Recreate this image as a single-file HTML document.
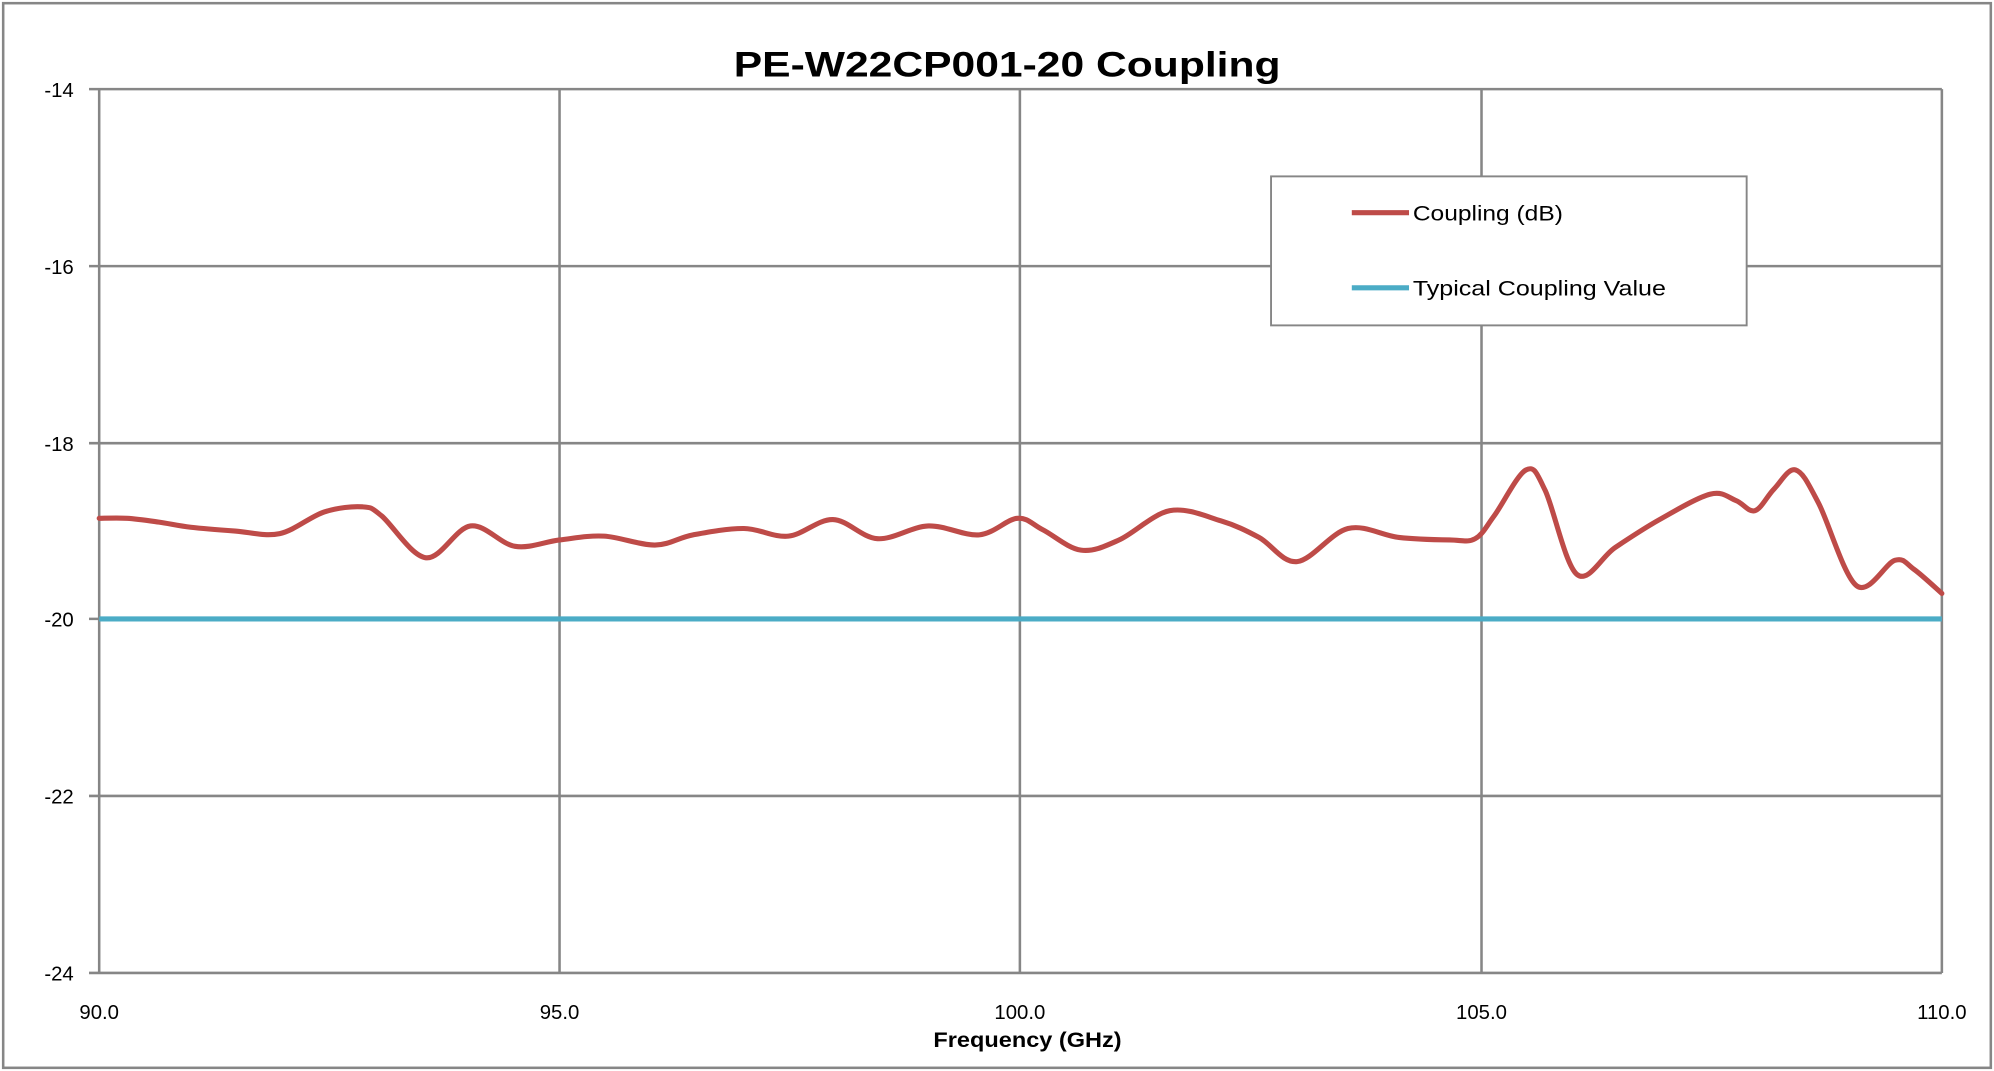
<!DOCTYPE html>
<html><head><meta charset="utf-8"><style>
html,body{margin:0;padding:0;background:#fff;}
svg{display:block;}
text{font-family:"Liberation Sans",sans-serif;}
</style></head><body>
<svg width="1994" height="1071" viewBox="0 0 1568 841" preserveAspectRatio="none" xmlns="http://www.w3.org/2000/svg">
<rect x="0" y="0" width="1568" height="841" fill="#fff"/>
<rect x="2.5" y="2.5" width="1563" height="836" fill="none" stroke="#868686" stroke-width="2"/>
<text x="792" y="60" text-anchor="middle" font-size="28" font-weight="bold" fill="#000" textLength="430" lengthAdjust="spacingAndGlyphs">PE-W22CP001-20 Coupling</text>
<g stroke="#868686" stroke-width="2" fill="none">
<line x1="70" y1="70" x2="1527" y2="70"/>
<line x1="70" y1="209" x2="1527" y2="209"/>
<line x1="70" y1="348" x2="1527" y2="348"/>
<line x1="70" y1="486" x2="1527" y2="486"/>
<line x1="70" y1="625" x2="1527" y2="625"/>
<line x1="70" y1="764" x2="1527" y2="764"/>
<line x1="78" y1="70" x2="78" y2="764"/>
<line x1="440" y1="70" x2="440" y2="764"/>
<line x1="802" y1="70" x2="802" y2="764"/>
<line x1="1165" y1="70" x2="1165" y2="764"/>
<line x1="1527" y1="70" x2="1527" y2="764"/>
</g>
<g font-size="16" fill="#000" text-anchor="end">
<text x="58" y="76">-14</text>
<text x="58" y="215">-16</text>
<text x="58" y="354">-18</text>
<text x="58" y="492">-20</text>
<text x="58" y="631">-22</text>
<text x="58" y="770">-24</text>
</g>
<g font-size="16" fill="#000" text-anchor="middle">
<text x="78" y="800">90.0</text>
<text x="440" y="800">95.0</text>
<text x="802" y="800">100.0</text>
<text x="1165" y="800">105.0</text>
<text x="1527" y="800">110.0</text>
</g>
<text x="808" y="822" text-anchor="middle" font-size="17" font-weight="bold" textLength="148" lengthAdjust="spacingAndGlyphs">Frequency (GHz)</text>
<line x1="78" y1="486" x2="1527" y2="486" stroke="#4bacc6" stroke-width="4"/>
<path id="curve" fill="none" stroke="#be4b48" stroke-width="4" stroke-linejoin="round" stroke-linecap="round" d=""/>
<rect x="999.5" y="138.5" width="374" height="117" fill="#fff" stroke="#868686" stroke-width="1.5"/>
<line x1="1063" y1="167" x2="1108" y2="167" stroke="#be4b48" stroke-width="4"/>
<line x1="1063" y1="226" x2="1108" y2="226" stroke="#4bacc6" stroke-width="4"/>
<text x="1111" y="173" font-size="17" textLength="118" lengthAdjust="spacingAndGlyphs">Coupling (dB)</text>
<text x="1111" y="232" font-size="17" textLength="199" lengthAdjust="spacingAndGlyphs">Typical Coupling Value</text>
</svg>
<script>
var p=[[78,407],[100,407],[125,410],[150,414],[185,417],[220,419],[255,402],[285,398],[300,405],[335,438],[370,413],[405,429],[440,424],[475,421],[515,428],[545,420],[585,415],[620,421],[655,408],[690,423],[730,413],[770,420],[800,407],[820,416],[850,432],[880,424],[920,401],[960,409],[990,422],[1020,441],[1060,415],[1100,422],[1140,424],[1160,423],[1175,405],[1200,369],[1215,385],[1240,451],[1270,430],[1305,408],[1345,388],[1365,393],[1380,401],[1395,384],[1412,369],[1430,395],[1460,460],[1490,440],[1505,447],[1527,466]];
var d="M"+p[0][0]+","+p[0][1];
for(var i=0;i<p.length-1;i++){var a=p[i-1]||p[i],b=p[i],c=p[i+1],e=p[i+2]||c;
d+=" C"+(b[0]+(c[0]-a[0])/6)+","+(b[1]+(c[1]-a[1])/6)+" "+(c[0]-(e[0]-b[0])/6)+","+(c[1]-(e[1]-b[1])/6)+" "+c[0]+","+c[1];}
document.getElementById("curve").setAttribute("d",d);
</script>
</body></html>
